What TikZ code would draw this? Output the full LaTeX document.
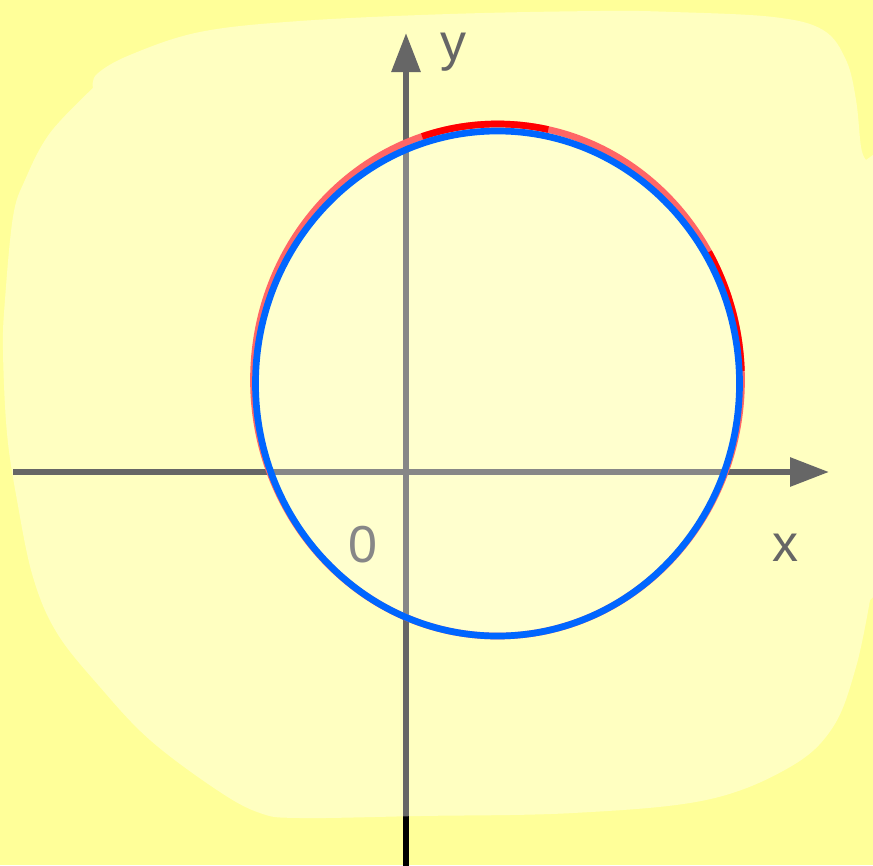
\documentclass[tikz,border=0pt]{standalone}
\usepackage{fontspec}
\setmainfont{Liberation Sans}
\usetikzlibrary{arrows.meta}
\definecolor{bgyellow}{HTML}{FFFF99}
\definecolor{circblue}{HTML}{0066FF}
\definecolor{circred}{HTML}{FF0000}
\tikzset{
  axis/.style={line width=6pt, draw=black, -{Triangle[length=39pt,width=28pt]}},
  axlabel/.style={text=black, font=\fontsize{52}{60}\selectfont, inner sep=0pt, anchor=base},
  blob/.style={fill=white, fill opacity=0.4},
  curve/.style={line width=6.7pt}
}
\begin{document}
\begin{tikzpicture}[x=1pt,y=-1pt]
\useasboundingbox (0,0) rectangle (873,865);
\fill[bgyellow] (0,0) rectangle (873,865);
% axes (drawn black, lightened by the overlay)
\coordinate (xs) at (13,472);
\coordinate (xe) at (829,472);
\coordinate (ys) at (406,866);
\coordinate (ye) at (406,33);
\draw[axis] (xs) -- (xe);
\draw[axis] (ys) -- (ye);
\node[axlabel] (ylab) at (453,60) {y};
\node[axlabel] (xlab) at (785,561) {x};
\node[axlabel] (zero) at (363,562) {0};
% red curve
\coordinate (rc) at (497.5,380);
\draw[curve, circred] (rc) ellipse[x radius=244, y radius=256];
% light blob
\fill[blob] plot[smooth, tension=0.6] coordinates {(93,88) (97,74) (130,55) (200,32) (300,21) (450,14) (600,11) (673,12) (773,17) (823,30) (846,60) (856,100) (861,147) (866,160)}
  -- (880,150) -- (880,590)
  -- plot[smooth, tension=0.6] coordinates {(870,600) (856,667) (833,727) (790,767) (706,800) (573,813) (420,816) (300,818) (260,813) (217,790) (150,740) (100,687) (57,633) (33,577) (17,500) (7,433) (3,350) (5,300) (13,217) (25,180) (50,133) (93,88)}
  -- cycle;
% pure red parts showing above the blob
\draw[curve, circred] (rc) ++(252:244 and 256) arc[start angle=252, end angle=282, x radius=244, y radius=256];
\draw[curve, circred] (rc) ++(-30:244 and 256) arc[start angle=-30, end angle=-2, x radius=244, y radius=256];
% blue curve with light interior
\coordinate (bc) at (497.5,383.5);
\fill[white, fill opacity=0.22] (bc) ellipse[x radius=242, y radius=252.5];
\draw[curve, circblue] (bc) ellipse[x radius=242, y radius=252.5];
\end{tikzpicture}
\end{document}
